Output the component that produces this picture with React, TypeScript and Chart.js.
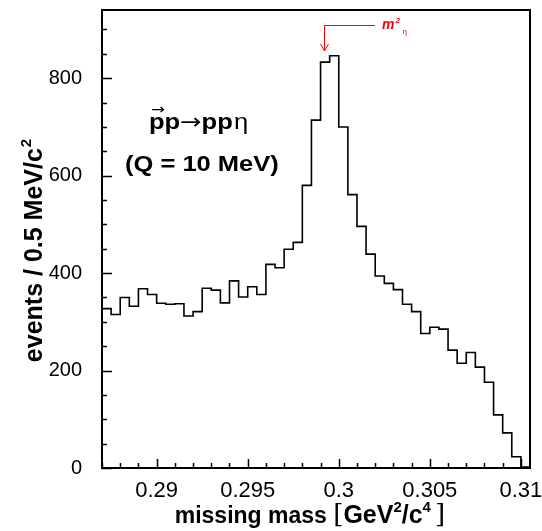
import React, { useEffect, useRef } from 'react';
import { Chart, registerables } from 'chart.js';

Chart.register(...registerables);

// ---- data ----
const binStart = 0.287; // GeV^2/c^4, lower edge of first bin
const binWidth = 0.0005; // bin width
const counts = [
  327, 315, 350, 332, 368, 356, 338, 336, 337, 312,
  321, 369, 365, 339, 384, 351, 372, 356, 418, 411,
  449, 463, 580, 714, 833, 846, 700, 561, 496, 439,
  394, 379, 366, 336, 321, 276, 289, 285, 242, 215,
  237, 207, 176, 109, 72, 23, 2,
];
const xTicks = [0.29, 0.295, 0.3, 0.305, 0.31];
const yTicks = [0, 200, 400, 600, 800];
const xMin = 0.287;
const xMax = 0.3105;
const yMin = 0;
const yMax = 940;
const xMinorStep = 0.001;
const yMinorStep = 50;
const etaMassSq = 0.2992;

const xTitle = ['missing mass ', '[', 'GeV', '2', '/c', '4', ']'];
const yTitle = ['events / 0.5 MeV/c', '2'];
const reaction = ['p', 'p', '\u2192', 'pp', '\u03b7'];
const qLabel = '(Q = 10 MeV)';
const etaLabel = ['m', '2', '\u03b7'];

const FONT = "'Liberation Sans', Arial, Helvetica, sans-serif";

const decorPlugin = {
  id: 'decor',
  afterDatasetsDraw(chart: any) {
    const { ctx, chartArea: a, scales } = chart;
    const x = scales.x;
    const y = scales.y;
    ctx.save();
    // frame
    ctx.strokeStyle = '#000';
    ctx.lineWidth = 2;
    ctx.strokeRect(a.left, a.top, a.right - a.left, a.bottom - a.top);
    // inward ticks
    ctx.lineWidth = 1.5;
    ctx.beginPath();
    const nY = Math.floor((yMax - yMin) / yMinorStep + 1e-9);
    for (let i = 0; i <= nY; i++) {
      const v = yMin + i * yMinorStep;
      const py = Math.round(y.getPixelForValue(v)) + 0.5;
      const len = yTicks.includes(v) ? 10 : 5;
      ctx.moveTo(a.left, py);
      ctx.lineTo(a.left + len, py);
    }
    const nX = Math.floor((xMax - xMin) / xMinorStep + 1e-9) + 1;
    for (let i = 0; i <= nX; i++) {
      const v = Math.round((Math.ceil(xMin * 1000) / 1000 + i * xMinorStep) * 1e6) / 1e6;
      if (v > xMax) break;
      const px = Math.round(x.getPixelForValue(v)) + 0.5;
      const major = xTicks.some((t) => Math.abs(t - v) < 1e-9);
      const len = major ? 9 : 5;
      ctx.moveTo(px, a.bottom);
      ctx.lineTo(px, a.bottom - len);
    }
    ctx.stroke();

    ctx.fillStyle = '#000';
    ctx.textBaseline = 'alphabetic';
    ctx.textAlign = 'left';

    // reaction label (slightly widened like the original)
    const sx = 1.16;
    {
      const x0 = x.getPixelForValue(0.28958);
      const by = y.getPixelForValue(695);
      ctx.save();
      ctx.translate(x0, by);
      ctx.scale(sx, 1);
      let cx = 0;
      const bold = `bold 22px ${FONT}`;
      ctx.font = bold;
      const pW = ctx.measureText('p').width;
      ctx.fillText(reaction[0], cx, 0);
      ctx.font = `14px 'DejaVu Sans', ${FONT}`;
      const arW = ctx.measureText('\u2192').width;
      ctx.fillText('\u2192', cx + pW / 2 - arW / 2 + 1, -15);
      cx += pW;
      ctx.font = bold;
      ctx.fillText(reaction[1], cx, 0);
      cx += pW;
      ctx.font = `22px 'DejaVu Sans', ${FONT}`;
      ctx.fillText(reaction[2], cx, 0);
      cx += ctx.measureText(reaction[2]).width;
      ctx.font = bold;
      ctx.fillText(reaction[3], cx, 0);
      cx += ctx.measureText(reaction[3]).width;
      ctx.font = `22px ${FONT}`;
      ctx.fillText(reaction[4], cx + 1, 0);
      ctx.restore();
    }
    // Q label
    {
      ctx.save();
      ctx.translate(x.getPixelForValue(0.28826), y.getPixelForValue(609));
      ctx.scale(sx, 1);
      ctx.font = `bold 22px ${FONT}`;
      ctx.fillText(qLabel, 0, 0);
      ctx.restore();
    }

    // red arrow for m^2_eta
    const ax = Math.round(x.getPixelForValue(etaMassSq)) + 0.5;
    const ay0 = Math.round(y.getPixelForValue(910)) + 0.5;
    const ay1 = y.getPixelForValue(856);
    const hx = x.getPixelForValue(0.30199);
    ctx.strokeStyle = '#ff0000';
    ctx.fillStyle = '#ff0000';
    ctx.lineWidth = 1;
    ctx.beginPath();
    ctx.moveTo(hx, ay0);
    ctx.lineTo(ax, ay0);
    ctx.lineTo(ax, ay1);
    ctx.moveTo(ax - 4, ay1 - 7);
    ctx.lineTo(ax, ay1);
    ctx.lineTo(ax + 4, ay1 - 7);
    ctx.stroke();
    const tx = x.getPixelForValue(0.30237);
    ctx.font = `italic bold 14px ${FONT}`;
    ctx.fillText(etaLabel[0], tx, ay0 + 3);
    const mW = ctx.measureText(etaLabel[0]).width;
    ctx.font = `italic bold 8px ${FONT}`;
    ctx.fillText(etaLabel[1], tx + mW + 1, ay0 - 3);
    ctx.font = `8px ${FONT}`;
    ctx.fillText(etaLabel[2], tx + mW + 8, ay0 + 8);

    // axis titles
    ctx.fillStyle = '#000';
    {
      const parts = [
        { t: xTitle[0], f: `bold 23px ${FONT}`, dy: 0 },
        { t: xTitle[1], f: `26px 'DejaVu Serif', serif`, dy: 0 },
        { t: xTitle[2], f: `bold 25px ${FONT}`, dy: 0 },
        { t: xTitle[3], f: `bold 15px ${FONT}`, dy: -11 },
        { t: xTitle[4], f: `bold 25px ${FONT}`, dy: 0 },
        { t: xTitle[5], f: `bold 15px ${FONT}`, dy: -11 },
        { t: ' ', f: `bold 15px ${FONT}`, dy: 0 },
        { t: xTitle[6], f: `26px 'DejaVu Serif', serif`, dy: 0 },
      ];
      let total = 0;
      for (const p of parts) {
        ctx.font = p.f;
        total += ctx.measureText(p.t).width;
      }
      let cx = 310 - total / 2;
      const by = 523;
      for (const p of parts) {
        ctx.font = p.f;
        ctx.fillText(p.t, cx, by + p.dy);
        cx += ctx.measureText(p.t).width;
      }
    }
    {
      ctx.save();
      ctx.translate(42, 0);
      ctx.rotate(-Math.PI / 2);
      const f1 = `bold 25px ${FONT}`;
      const f2 = `bold 15px ${FONT}`;
      ctx.font = f1;
      const w1 = ctx.measureText(yTitle[0]).width;
      ctx.font = f2;
      const w2 = ctx.measureText(yTitle[1]).width;
      const total = w1 + w2;
      const centerY = 251;
      const start = -centerY - total / 2;
      ctx.font = f1;
      ctx.fillText(yTitle[0], start, 0);
      ctx.font = f2;
      ctx.fillText(yTitle[1], start + w1 + 1, -11);
      ctx.restore();
    }
    ctx.restore();
  },
};

export default function App() {
  const ref = useRef<HTMLCanvasElement>(null);
  useEffect(() => {
    if (!ref.current) return;
    const points = counts.map((c, i) => ({ x: binStart + i * binWidth, y: c }));
    points.push({ x: binStart + counts.length * binWidth, y: counts[counts.length - 1] });
    const zeroPad = (s: any) => {
      s.paddingTop = 0;
      s.paddingBottom = 0;
      s.paddingLeft = 0;
      s.paddingRight = 0;
    };
    const chart = new Chart(ref.current, {
      type: 'line',
      data: {
        datasets: [
          {
            data: points,
            stepped: 'before',
            borderColor: '#000',
            borderWidth: 1.6,
            pointRadius: 0,
            fill: false,
          },
        ],
      },
      options: {
        animation: false,
        responsive: false,
        maintainAspectRatio: false,
        layout: { padding: { top: 10, right: 12, left: 0, bottom: 0 } },
        plugins: { legend: { display: false }, tooltip: { enabled: false } },
        scales: {
          x: {
            type: 'linear',
            min: xMin,
            max: xMax,
            grid: { display: false, drawTicks: false },
            border: { display: false },
            afterBuildTicks: (s: any) => {
              s.ticks = xTicks.map((v) => ({ value: v }));
            },
            ticks: {
              font: { family: FONT, size: 22 },
              color: '#000',
              padding: 10,
              maxRotation: 0,
              autoSkip: false,
              callback: (v: any) => String(Number(Number(v).toFixed(3))),
            },
            title: { display: false },
            afterFit: (s: any) => {
              s.height = 63;
              zeroPad(s);
            },
          },
          y: {
            type: 'linear',
            min: yMin,
            max: yMax,
            grid: { display: false, drawTicks: false },
            border: { display: false },
            afterBuildTicks: (s: any) => {
              s.ticks = yTicks.map((v) => ({ value: v }));
            },
            ticks: {
              font: { family: FONT, size: 20 },
              color: '#000',
              padding: 20,
              autoSkip: false,
            },
            title: { display: false },
            afterFit: (s: any) => {
              s.width = 102;
              zeroPad(s);
            },
          },
        },
      },
      plugins: [decorPlugin],
    });
    return () => chart.destroy();
  }, []);
  return (
    <div style={{ position: 'absolute', left: 0, top: 0, width: 542, height: 531, background: '#fff' }}>
      <canvas ref={ref} width={542} height={531} style={{ width: 542, height: 531, display: 'block' }} />
    </div>
  );
}
